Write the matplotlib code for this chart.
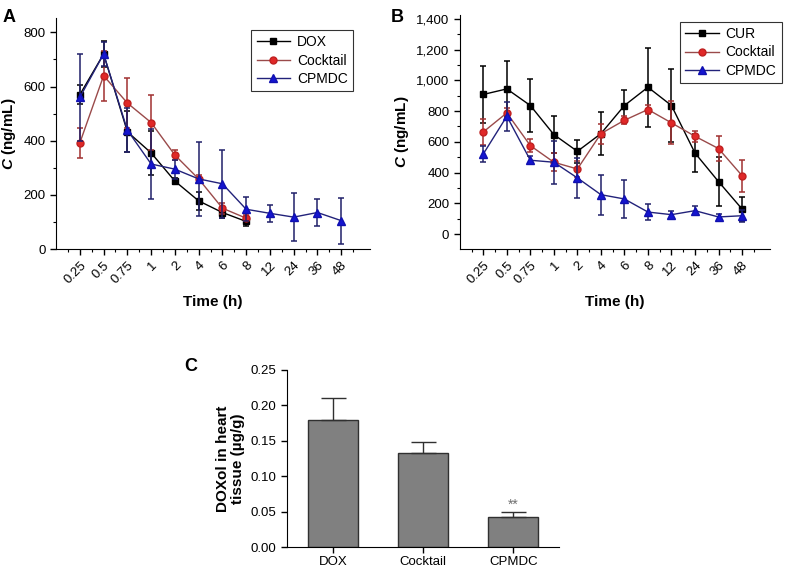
import matplotlib
matplotlib.use("Agg")
import matplotlib.pyplot as plt
from matplotlib.ticker import MultipleLocator, FixedLocator, FuncFormatter
from matplotlib.lines import Line2D
import numpy as np

plt.rcParams['font.family'] = ['Liberation Sans', 'DejaVu Sans']
plt.rcParams['mathtext.fontset'] = 'custom'
plt.rcParams['mathtext.bf'] = 'Liberation Sans:bold'
plt.rcParams['mathtext.it'] = 'Liberation Sans:italic'
plt.rcParams['mathtext.rm'] = 'Liberation Sans'
plt.rcParams['mathtext.bfit'] = 'Liberation Sans:italic:bold'

# --- dados ---
tempos = ["0.25", "0.5", "0.75", "1", "2", "4", "6", "8", "12", "24", "36", "48"]

# Painel A (DOX no plasma)
a_dox = [570, 720, 433, 355, 251, 178, 135, 102]
a_dox_err = [35, 47, 75, 80, 12, 33, 20, 15]
a_cock = [392, 640, 539, 467, 347, 259, 151, 114]
a_cock_err = [56, 92, 93, 100, 18, 15, 20, 12]
a_cpmdc = [560, 720, 439, 314, 295, 259, 241, 147, 132, 118, 135, 105]
a_cpmdc_err = [160, 45, 82, 130, 35, 137, 125, 44, 31, 88, 51, 85]

# Painel B (CUR no plasma)
b_cur = [908, 944, 836, 647, 538, 653, 836, 955, 836, 527, 341, 163]
b_cur_err = [184, 180, 173, 123, 76, 139, 104, 256, 238, 125, 160, 76]
b_cock = [664, 788, 575, 467, 423, 653, 740, 810, 723, 636, 556, 380]
b_cock_err = [85, 30, 40, 60, 50, 65, 25, 30, 140, 35, 84, 104]
b_cpmdc = [521, 766, 480, 467, 365, 256, 228, 143, 126, 152, 111, 119]
b_cpmdc_err = [50, 95, 25, 140, 130, 130, 125, 50, 25, 30, 20, 40]

# Painel C (DOXol no coração)
grupos = ["DOX", "Cocktail", "CPMDC"]
c_vals = [0.180, 0.133, 0.043]
c_err = [0.030, 0.015, 0.006]

# estilos
estilo = {
    "preto": dict(color="black", mfc="black", mec="black", marker="s", ms=4.5),
    "vermelho": dict(color="#9a4a4a", mfc="#e02828", mec="#c02020", marker="o", ms=5),
    "azul": dict(color="#22227a", mfc="#1515d0", mec="#1010b0", marker="^", ms=5.5),
}
cor_err = {"preto": "black", "vermelho": "#a03030", "azul": "#20206a"}

fig = plt.figure(figsize=(7.9, 5.7), dpi=100)


def serie(ax, y, err, nome, label):
    x = np.arange(1, len(y) + 1)
    ax.errorbar(x, y, yerr=err, fmt='none', ecolor=cor_err[nome], elinewidth=1.1,
                capsize=2.5, capthick=1.1)
    ax.plot(x, y, lw=1.0, label=label, **estilo[nome])


def eixo_tempo(ax):
    ax.spines['top'].set_visible(False)
    ax.spines['right'].set_visible(False)
    ax.set_xlim(0, 13.2)
    ax.xaxis.set_major_locator(FixedLocator(np.arange(1, 13)))
    ax.xaxis.set_minor_locator(FixedLocator(np.arange(0.5, 13.2, 1.0)))
    ax.set_xticklabels(tempos, rotation=45, ha='right', rotation_mode='anchor', fontsize=9.5)
    ax.tick_params(axis='both', which='major', direction='out', length=4, width=1, labelsize=9.5)
    ax.tick_params(axis='both', which='minor', direction='out', length=2.5, width=0.8)
    ax.set_xlabel("Time (h)", fontsize=11, fontweight='bold', labelpad=6)
    ax.set_ylabel(r"$\mathbfit{C}$ (ng/mL)", fontsize=11, fontweight='bold')


def legenda(ax, ancora):
    leg = ax.legend(loc='upper right', bbox_to_anchor=ancora, frameon=True, fancybox=False,
                    edgecolor='black', fontsize=10, handlelength=2.4, borderpad=0.4,
                    labelspacing=0.3, handletextpad=0.5)
    leg.get_frame().set_linewidth(0.8)


# Painel A
axA = fig.add_axes([0.071, 0.563, 0.397, 0.405])
serie(axA, a_dox, a_dox_err, "preto", "DOX")
serie(axA, a_cock, a_cock_err, "vermelho", "Cocktail")
serie(axA, a_cpmdc, a_cpmdc_err, "azul", "CPMDC")
eixo_tempo(axA)
axA.set_ylim(0, 852)
axA.yaxis.set_major_locator(MultipleLocator(200))
axA.yaxis.set_minor_locator(MultipleLocator(100))
legenda(axA, (0.97, 0.98))
fig.text(0.003, 0.985, "A", fontsize=13, fontweight='bold', va='top')

# Painel B
axB = fig.add_axes([0.582, 0.563, 0.393, 0.411])
serie(axB, b_cur, b_cur_err, "preto", "CUR")
serie(axB, b_cock, b_cock_err, "vermelho", "Cocktail")
serie(axB, b_cpmdc, b_cpmdc_err, "azul", "CPMDC")
eixo_tempo(axB)
axB.set_ylim(-98, 1426)
axB.yaxis.set_major_locator(MultipleLocator(200))
axB.yaxis.set_minor_locator(MultipleLocator(100))
axB.yaxis.set_major_formatter(FuncFormatter(lambda v, p: f"{int(v):,}"))
legenda(axB, (1.06, 1.0))
fig.text(0.494, 0.985, "B", fontsize=13, fontweight='bold', va='top')

# Painel C
axC = fig.add_axes([0.363, 0.04, 0.345, 0.311])
xc = np.arange(len(grupos))
axC.bar(xc, c_vals, width=0.55, color='#808080', edgecolor='#303030', linewidth=1.0,
        yerr=[np.zeros(len(c_err)), c_err], error_kw=dict(ecolor='#303030', elinewidth=1.0,
                                                          capsize=9, capthick=1.0))
axC.set_xlim(-0.51, 2.51)
axC.set_ylim(0, 0.25)
axC.set_xticks(xc)
axC.set_xticklabels(grupos, fontsize=9.5)
axC.yaxis.set_major_locator(MultipleLocator(0.05))
axC.yaxis.set_major_formatter(FuncFormatter(lambda v, p: f"{v:.2f}"))
axC.spines['top'].set_visible(False)
axC.spines['right'].set_visible(False)
axC.tick_params(axis='both', direction='out', length=4, width=1, labelsize=9.5)
axC.tick_params(axis='x', pad=2)
axC.set_ylabel("DOXol in heart\ntissue (µg/g)", fontsize=11, fontweight='bold', linespacing=1.05)
axC.text(xc[2], c_vals[2] + c_err[2] + 0.001, "**", ha='center', va='bottom', fontsize=10,
         color='#707070')
fig.text(0.233, 0.372, "C", fontsize=13, fontweight='bold', va='top')

plt.savefig("out.png", dpi=100)
